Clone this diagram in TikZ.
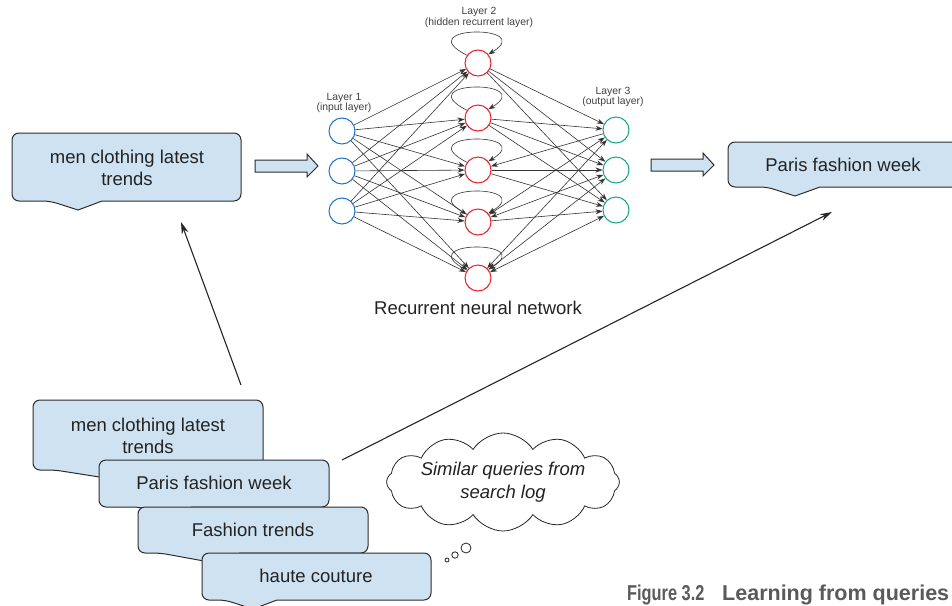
\documentclass[tikz,border=0pt]{standalone}
\usepackage{fontspec}
\setmainfont{Liberation Sans}
\usetikzlibrary{arrows.meta,shapes.symbols}
\definecolor{boxblue}{RGB}{207,226,242}
\definecolor{bordergray}{RGB}{45,45,45}
\definecolor{inblue}{RGB}{30,115,200}
\definecolor{hidred}{RGB}{232,30,40}
\definecolor{outteal}{RGB}{20,165,135}
\definecolor{capgray}{RGB}{90,90,90}
\definecolor{txtdark}{RGB}{35,35,35}
\tikzset{
 qshape/.style={fill=boxblue, draw=bordergray, line width=1pt, line join=round},
 qtext/.style={font=\fontsize{18.5}{22}\selectfont, text=txtdark, align=center, inner sep=0pt},
 neuron/.style={circle, minimum size=26pt, inner sep=0pt, line width=1pt, fill=white},
 inn/.style={neuron, draw=inblue},
 hid/.style={neuron, draw=hidred},
 outn/.style={neuron, draw=outteal},
 syn/.style={draw=black!80, line width=0.6pt, -{Stealth[length=7pt,width=5pt]}},
 synb/.style={draw=black!80, line width=0.6pt, {Stealth[length=7pt,width=5pt]}-{Stealth[length=7pt,width=5pt]}},
 layerlbl/.style={font=\fontsize{10.4}{10.5}\selectfont, text=black!75, align=center, inner sep=0pt},
 blockarrow/.style={fill=boxblue, draw=bordergray, line width=1pt, line join=miter},
 longarrow/.style={draw=black!85, line width=1.1pt, -{Stealth[length=12pt,width=7pt]}},
 bubble/.style={draw=black!85, line width=0.8pt, fill=white},
 captxt/.style={anchor=base west, inner sep=0pt, font=\bfseries\fontsize{21.5}{21.5}\selectfont, text=capgray},
}
\newcommand\qcallout[8]{%
 \path[qshape] (#8,-#4) [rounded corners=7pt] -- (#3,-#4) -- (#3,-#2) -- (#1,-#2) -- (#1,-#4) -- (#5,-#4) [sharp corners] -- (#6,-#7) -- cycle;}
\begin{document}
\begin{tikzpicture}[x=1pt,y=1pt]
\clip (0,0) rectangle (952,-605);
\fill[white] (0,0) rectangle (952,-605);

% ---- top callouts
\qcallout{12}{133}{241}{201}{50}{78}{210}{102}
\node[qtext] (q1) at (127,-168) {men clothing latest\\trends};
\qcallout{728}{142}{968}{187}{767}{795}{196}{820}
\node[qtext] (q2) at (843,-165) {Paris fashion week};

% ---- block arrows
\path[blockarrow] (255,-160) -- (307,-160) -- (307,-154) -- (318,-166) -- (307,-177) -- (307,-172) -- (255,-172) -- cycle;
\path[blockarrow] (651,-159) -- (703,-159) -- (703,-153) -- (714,-165) -- (703,-176) -- (703,-171) -- (651,-171) -- cycle;

% ---- network nodes
\node[inn] (i1) at (342,-131) {};
\node[inn] (i2) at (342,-171) {};
\node[inn] (i3) at (342,-211) {};
\node[hid] (h1) at (478,-63) {};
\node[hid] (h2) at (478,-118) {};
\node[hid] (h3) at (478,-170) {};
\node[hid] (h4) at (478,-222) {};
\node[hid] (h5) at (478,-278) {};
\node[outn] (o1) at (616,-130) {};
\node[outn] (o2) at (616,-170) {};
\node[outn] (o3) at (616,-210) {};

\foreach \i in {i1,i2,i3}{
  \foreach \h in {h1,h2,h3,h4,h5}{
    \draw[syn] (\i) -- (\h);
  }
}
\foreach \h in {h1,h2}{
  \foreach \o in {o1,o2,o3}{
    \draw[syn] (\h) -- (\o);
  }
}
\draw[syn] (h3) -- (o2);
\draw[syn] (h3) -- (o3);
\draw[syn] (o1) -- (h3);
\draw[synb] (o1) -- (h4);
\draw[synb] (o2) -- (h4);
\draw[syn] (h4) -- (o3);
\draw[synb] (o1) -- (h5);
\draw[synb] (o2) -- (h5);
\draw[synb] (o3) -- (h5);

\foreach \h in {h1,h2,h3,h4,h5}{
  \draw[syn] (\h.145) .. controls +(-59pt,30pt) and +(50pt,30pt) .. (\h.40);
}

\node[layerlbl] (l1) at (344,-103) {Layer 1\\(input layer)};
\node[layerlbl] (l2) at (479,-17.5) {Layer 2\\(hidden recurrent layer)};
\node[layerlbl] (l3) at (613,-97) {Layer 3\\(output layer)};
\node[qtext] (rnn) at (478,-308) {Recurrent neural network};

% ---- long arrows
\coordinate (a1s) at (241,-385);
\coordinate (a1e) at (181,-222);
\draw[longarrow] (a1s) -- (a1e);
\coordinate (a2s) at (342,-460);
\coordinate (a2e) at (832,-212);
\draw[longarrow] (a2s) -- (a2e);

% ---- stacked queries
\qcallout{33}{400}{263}{470}{55}{112}{479}{135}
\node[qtext] (qa) at (148,-436) {men clothing latest\\trends};
\qcallout{99}{460}{329}{507}{140}{168}{516}{192}
\node[qtext] (qb) at (214,-483) {Paris fashion week};
\qcallout{138}{507}{368}{553}{160}{215}{563}{240}
\node[qtext] (qc) at (253,-530) {Fashion trends};
\qcallout{202}{553}{431}{600}{225}{253}{609}{277}
\node[qtext] (qd) at (316,-576) {haute couture};

% ---- thought cloud
\node[cloud, cloud puffs=12, cloud puff arc=115, cloud ignores aspect, draw=black!85, line width=0.8pt, fill=white,
      minimum width=212pt, minimum height=98pt, inner sep=0pt, align=center,
      font=\fontsize{18.5}{23}\selectfont\itshape, text=txtdark] (cloud) at (503,-482)
      {Similar queries from\\search log};
\draw[bubble] (466,-548) circle (5pt);
\draw[bubble] (455,-555) circle (3.2pt);
\draw[bubble] (447,-560) circle (2pt);

% ---- caption
\node[captxt] (cap1) at (627,-600) {\scalebox{0.76}[1]{Figure 3.2}};
\node[captxt] (cap2) at (722,-600) {Learning from queries};
\end{tikzpicture}
\end{document}
